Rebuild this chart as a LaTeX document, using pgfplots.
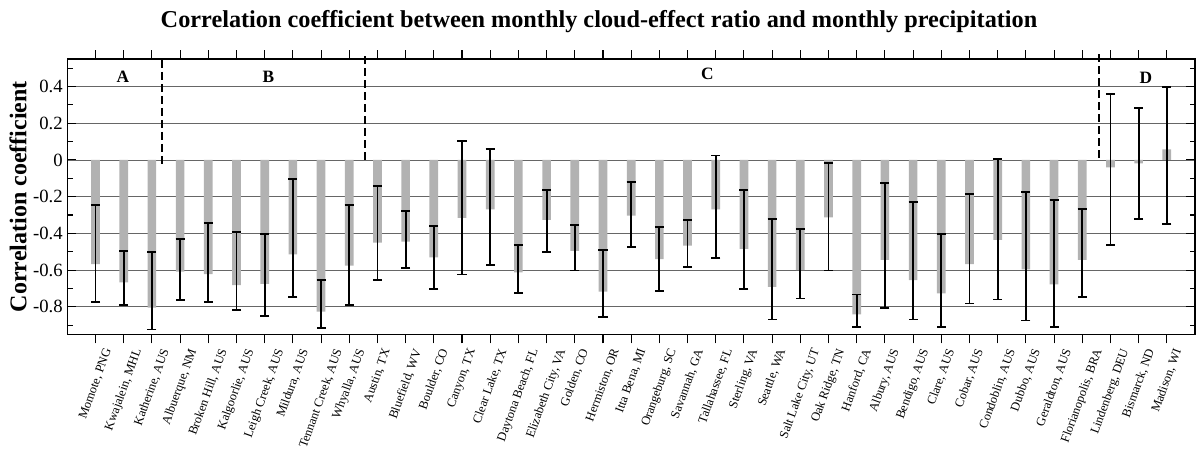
\documentclass[border=0pt]{standalone}
\usepackage{fontspec}
\setmainfont{Liberation Serif}
\usepackage{graphicx}
\usepackage{pgfplots}
\usepackage{pgfplotstable}
\pgfplotsset{compat=1.18}
\newcommand{\rl}[1]{\rotatebox{70}{#1}}

\pgfplotstableread{
idx val hi lo
0 -0.567 -0.245 -0.773
1 -0.667 -0.496 -0.791
2 -0.804 -0.502 -0.924
3 -0.609 -0.431 -0.762
4 -0.622 -0.344 -0.776
5 -0.682 -0.393 -0.818
6 -0.675 -0.405 -0.849
7 -0.515 -0.105 -0.749
8 -0.827 -0.655 -0.915
9 -0.576 -0.245 -0.791
10 -0.451 -0.144 -0.656
11 -0.445 -0.278 -0.587
12 -0.531 -0.360 -0.702
13 -0.316 0.105 -0.624
14 -0.269 0.058 -0.571
15 -0.613 -0.464 -0.725
16 -0.327 -0.165 -0.502
17 -0.495 -0.355 -0.602
18 -0.718 -0.491 -0.855
19 -0.304 -0.118 -0.475
20 -0.540 -0.364 -0.716
21 -0.467 -0.327 -0.584
22 -0.269 0.024 -0.536
23 -0.484 -0.165 -0.705
24 -0.691 -0.324 -0.869
25 -0.600 -0.375 -0.755
26 -0.313 -0.015 -0.602
27 -0.842 -0.733 -0.909
28 -0.545 -0.125 -0.807
29 -0.655 -0.227 -0.869
30 -0.727 -0.405 -0.909
31 -0.567 -0.184 -0.782
32 -0.436 0.004 -0.760
33 -0.596 -0.176 -0.875
34 -0.678 -0.220 -0.909
35 -0.545 -0.267 -0.745
36 -0.040 0.358 -0.464
37 -0.018 0.282 -0.322
38 0.058 0.396 -0.349
}\data

\begin{document}
\begin{tikzpicture}
\begin{axis}[
  scale only axis, width=845.8pt, height=206.5pt,
  xmin=-1, xmax=39, ymin=-0.95, ymax=0.55,
  clip=false,
  xtick={0,...,38},
  xticklabels={\rl{Momote, PNG},\rl{Kwajalein, MHL},\rl{Katherine, AUS},\rl{Albuerque, NM},\rl{Broken Hill, AUS},\rl{Kalgoorlie, AUS},\rl{Leigh Creek, AUS},\rl{Mildura, AUS},\rl{Tennant Creek, AUS},\rl{Whyalla, AUS},\rl{Austin, TX},\rl{Bluefield, WV},\rl{Boulder, CO},\rl{Canyon, TX},\rl{Clear Lake, TX},\rl{Daytona Beach, FL},\rl{Elizabeth City, VA},\rl{Golden, CO},\rl{Hermiston, OR},\rl{Itta Bena, MI},\rl{Orangeburg, SC},\rl{Savannah, GA},\rl{Tallahassee, FL},\rl{Sterling, VA},\rl{Seattle, WA},\rl{Salt Lake City, UT},\rl{Oak Ridge, TN},\rl{Hanford, CA},\rl{Albury, AUS},\rl{Bendigo, AUS},\rl{Clare, AUS},\rl{Cobar, AUS},\rl{Condoblin, AUS},\rl{Dubbo, AUS},\rl{Geraldton, AUS},\rl{Florianopolis, BRA},\rl{Lindenberg, DEU},\rl{Bismarck, ND},\rl{Madison, WI}},
  xticklabel style={anchor=north, font=\fontsize{9.4}{10}\selectfont, inner sep=0pt, yshift=-3pt},
  ytick={-0.8,-0.6,-0.4,-0.2,0,0.2,0.4},
  yticklabels={-0.8,-0.6,-0.4,-0.2,0,0.2,0.4},
  minor ytick={-0.9,-0.7,-0.5,-0.3,-0.1,0.1,0.3,0.5},
  yticklabel style={font=\fontsize{14}{16}\selectfont},
  xtick align=outside, ytick align=inside,
  major tick length=6.75pt, minor tick length=4pt,
  tick style={black, line width=0.8pt},
  ymajorgrids, grid style={black!60, line width=0.6pt},
  axis line style={line width=0.9pt},
  title={Correlation coefficient between monthly cloud-effect ratio and monthly precipitation},
  title style={font=\bfseries\fontsize{18.2}{20}\selectfont, at={(axis description cs:0.4715,1)}, anchor=base, yshift=18pt},
  ylabel={Correlation coefficient},
  ylabel style={font=\bfseries\fontsize{18}{20}\selectfont, at={(axis description cs:-0.032,0.5)}, anchor=south},
]
\addplot[ybar, bar width=6.5pt, fill=black!30, draw=none] table[x=idx, y=val]{\data};
\addplot[draw=none, mark=none, error bars/.cd, y dir=both, y explicit,
  error bar style={draw=black, solid, line width=1.4pt},
  error mark options={draw=black, solid, rotate=90, mark size=3.4pt, line width=1.4pt}]
  table[x=idx, y expr={(\thisrow{hi}+\thisrow{lo})/2}, y error expr={(\thisrow{hi}-\thisrow{lo})/2}]{\data};
\addplot[black, line width=1.5pt, dash pattern=on 6pt off 3pt] coordinates {(2.37,0.545) (2.37,-0.036)};
\addplot[black, line width=1.5pt, dash pattern=on 6pt off 3pt] coordinates {(9.56,0.565) (9.56,-0.005)};
\addplot[black, line width=1.5pt, dash pattern=on 6pt off 3pt] coordinates {(35.58,0.575) (35.58,0.005)};
\node[font=\bfseries\fontsize{13}{13}\selectfont] at (axis cs:0.97,0.455) {A};
\node[font=\bfseries\fontsize{13}{13}\selectfont] at (axis cs:6.13,0.455) {B};
\node[font=\bfseries\fontsize{13}{13}\selectfont] at (axis cs:21.7,0.467) {C};
\node[font=\bfseries\fontsize{13}{13}\selectfont] at (axis cs:37.26,0.445) {D};
\coordinate (sw) at (rel axis cs:0,0);
\coordinate (ne) at (rel axis cs:1,1);
\end{axis}
\pgfresetboundingbox
\path ([shift={(-50.5pt,-86.8pt)}]sw) rectangle ([shift={(1.5pt,44.25pt)}]ne);
\end{tikzpicture}
\end{document}
